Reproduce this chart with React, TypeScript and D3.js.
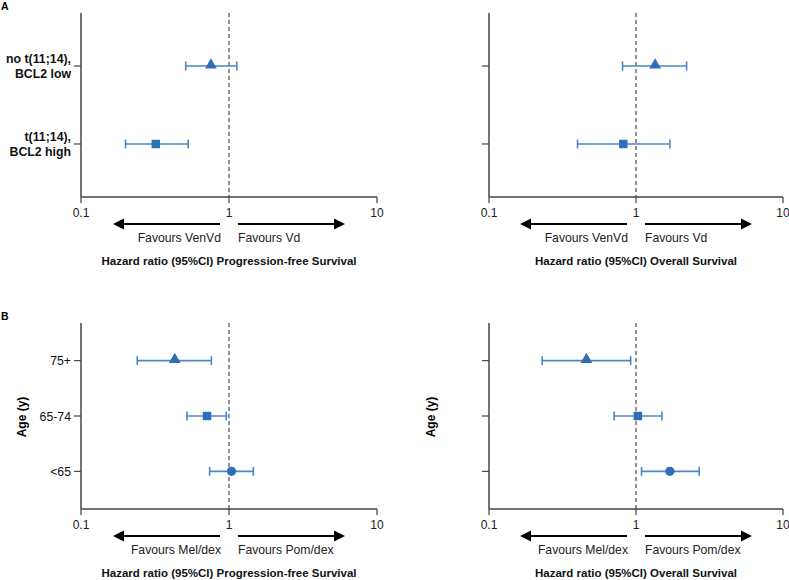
import React from "react";
import * as d3 from "d3";

const xTicks = [0.1, 1, 10];

const topCategories = ["no t(11;14),|BCL2 low", "t(11;14),|BCL2 high"];
const topMarkers = ["triangle", "square"];
const topPfsHR = [0.755, 0.32];
const topPfsLow = [0.51, 0.2];
const topPfsHigh = [1.13, 0.53];
const topOsHR = [1.35, 0.82];
const topOsLow = [0.81, 0.4];
const topOsHigh = [2.21, 1.7];

const ageCategories = ["75+", "65-74", "<65"];
const ageMarkers = ["triangle", "square", "circle"];
const agePfsHR = [0.43, 0.71, 1.04];
const agePfsLow = [0.24, 0.52, 0.74];
const agePfsHigh = [0.76, 0.96, 1.46];
const ageOsHR = [0.46, 1.03, 1.7];
const ageOsLow = [0.23, 0.71, 1.09];
const ageOsHigh = [0.92, 1.5, 2.69];

const topFavours = ["Favours VenVd", "Favours Vd"];
const ageFavours = ["Favours Mel/dex", "Favours Pom/dex"];
const pfsTitle = "Hazard ratio (95%CI) Progression-free Survival";
const osTitle = "Hazard ratio (95%CI) Overall Survival";

const FONT = "'Liberation Sans', Arial, sans-serif";
const AXIS = "#444";
const MARK = "#2f6db5";
const BAR = "#4a86c8";

type PanelProps = {
  x0: number; x1: number; y0: number; y1: number;
  cats: string[]; markers: string[]; hr: number[]; lo: number[]; hi: number[];
  favours: string[]; title: string; showLabels: boolean; boldLabels: boolean;
};

function Marker({ type, cx, cy }: { type: string; cx: number; cy: number }) {
  if (type === "triangle") {
    const s = d3.symbol(d3.symbolTriangle, 60)();
    return <path d={s as string} transform={`translate(${cx},${cy - 1})`} fill={MARK} />;
  }
  if (type === "square") {
    return <rect x={cx - 4.2} y={cy - 4.2} width={8.4} height={8.4} fill={MARK} />;
  }
  return <circle cx={cx} cy={cy} r={4.6} fill={MARK} />;
}

function Panel(p: PanelProps) {
  const x = d3.scaleLog().domain([0.1, 10]).range([p.x0, p.x1]);
  const y = d3.scalePoint<string>().domain(p.cats).range([p.y0, p.y1]).padding(0.68);
  const one = x(1);
  const ay = p.y1;
  return (
    <g fontFamily={FONT}>
      <line x1={one} x2={one} y1={p.y0} y2={ay} stroke="#666" strokeWidth={1.4} strokeDasharray="4,3" />
      <line x1={p.x0} x2={p.x0} y1={p.y0} y2={ay} stroke={AXIS} strokeWidth={1.5} />
      {p.cats.map((c) => (
        <line key={c} x1={p.x0 - 7} x2={p.x0} y1={y(c)} y2={y(c)} stroke={AXIS} strokeWidth={1.2} />
      ))}
      {p.showLabels &&
        p.cats.map((c) => {
          const lines = c.split("|");
          const cy = y(c) as number;
          return (
            <text key={c} textAnchor="end" fontSize={12.3} fontWeight={p.boldLabels ? "bold" : "normal"} fill="#111">
              {lines.map((l, i) => (
                <tspan key={i} x={p.x0 - 10} y={cy + 4.5 + (i - (lines.length - 1) / 2) * 15}>{l}</tspan>
              ))}
            </text>
          );
        })}
      <line x1={p.x0} x2={p.x1} y1={ay} y2={ay} stroke={AXIS} strokeWidth={1.5} />
      {xTicks.map((t) => (
        <g key={t}>
          <line x1={x(t)} x2={x(t)} y1={ay} y2={ay + 6} stroke={AXIS} strokeWidth={1.2} />
          <text x={x(t)} y={ay + 20} textAnchor="middle" fontSize={12} fill="#222">{t}</text>
        </g>
      ))}
      <line x1={one - 9} x2={one - 105} y1={ay + 27} y2={ay + 27} stroke="#000" strokeWidth={2.2} />
      <path d={`M${one - 116},${ay + 27} l11,-5.5 l0,11 z`} fill="#000" />
      <line x1={one + 9} x2={one + 105} y1={ay + 27} y2={ay + 27} stroke="#000" strokeWidth={2.2} />
      <path d={`M${one + 116},${ay + 27} l-11,-5.5 l0,11 z`} fill="#000" />
      <text x={one - 8} y={ay + 44.5} textAnchor="end" fontSize={12.2} fill="#222">{p.favours[0]}</text>
      <text x={one + 9} y={ay + 44.5} textAnchor="start" fontSize={12.2} fill="#222">{p.favours[1]}</text>
      <text x={one} y={ay + 68} textAnchor="middle" fontSize={11.5} fontWeight="bold" fill="#111">{p.title}</text>
      {p.cats.map((c, i) => {
        const cy = y(c) as number;
        return (
          <g key={c}>
            <line x1={x(p.lo[i])} x2={x(p.hi[i])} y1={cy} y2={cy} stroke={BAR} strokeWidth={1.6} />
            <line x1={x(p.lo[i])} x2={x(p.lo[i])} y1={cy - 4.5} y2={cy + 4.5} stroke={BAR} strokeWidth={1.6} />
            <line x1={x(p.hi[i])} x2={x(p.hi[i])} y1={cy - 4.5} y2={cy + 4.5} stroke={BAR} strokeWidth={1.6} />
            <Marker type={p.markers[i]} cx={x(p.hr[i])} cy={cy} />
          </g>
        );
      })}
    </g>
  );
}

export default function App() {
  return (
    <svg width={789} height={580} style={{ position: "absolute", left: 0, top: 0, background: "#fff" }}>
      <rect width={789} height={580} fill="#fff" />
      <text x={1} y={10} fontFamily={FONT} fontSize={10.5} fontWeight="bold">A</text>
      <text x={1} y={320} fontFamily={FONT} fontSize={10.5} fontWeight="bold">B</text>
      <Panel x0={81} x1={377} y0={13} y1={197} cats={topCategories} markers={topMarkers}
        hr={topPfsHR} lo={topPfsLow} hi={topPfsHigh} favours={topFavours} title={pfsTitle} showLabels boldLabels />
      <Panel x0={489} x1={783} y0={13} y1={197} cats={topCategories} markers={topMarkers}
        hr={topOsHR} lo={topOsLow} hi={topOsHigh} favours={topFavours} title={osTitle} showLabels={false} boldLabels />
      <Panel x0={81} x1={377} y0={323} y1={509} cats={ageCategories} markers={ageMarkers}
        hr={agePfsHR} lo={agePfsLow} hi={agePfsHigh} favours={ageFavours} title={pfsTitle} showLabels boldLabels={false} />
      <Panel x0={489} x1={783} y0={323} y1={509} cats={ageCategories} markers={ageMarkers}
        hr={ageOsHR} lo={ageOsLow} hi={ageOsHigh} favours={ageFavours} title={osTitle} showLabels={false} boldLabels={false} />
      <text transform="translate(22,417) rotate(-90)" textAnchor="middle" dy="0.35em" fontFamily={FONT} fontSize={12} fontWeight="bold">Age (y)</text>
      <text transform="translate(431,417) rotate(-90)" textAnchor="middle" dy="0.35em" fontFamily={FONT} fontSize={12} fontWeight="bold">Age (y)</text>
    </svg>
  );
}
